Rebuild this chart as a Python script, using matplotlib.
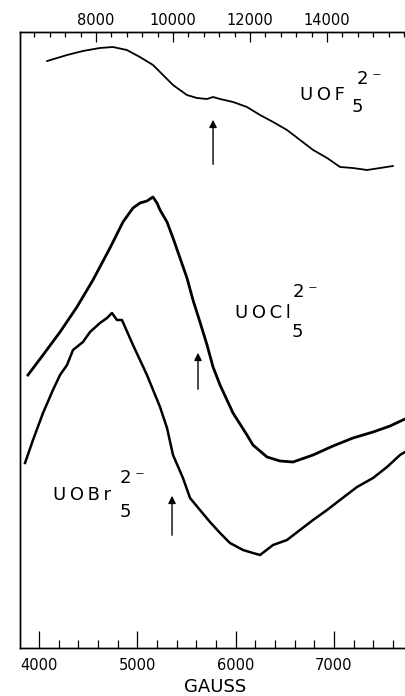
import matplotlib
matplotlib.use("Agg")
import matplotlib.pyplot as plt
from matplotlib.ticker import MultipleLocator

# UOF5(2-) is read on the top field scale (gauss)
uof_field = [6730, 6990, 7250, 7660, 8100, 8440, 8800, 9140, 9480, 9740,
             10000, 10360, 10620, 10880, 11040, 11220, 11560, 11920, 12260,
             12600, 12960, 13300, 13640, 14000, 14340, 14670, 15040, 15380, 15710]
uof_signal = [587, 590, 593, 597, 600, 601, 598, 591, 583, 573,
              563, 553, 550, 549, 551, 549, 546, 541, 533,
              526, 518, 508, 498, 490, 481, 480, 478, 480, 482]

# UOCl5(2-) and UOBr5(2-) are read on the bottom scale (gauss)
uocl_field = [3888, 4041, 4214, 4386, 4549, 4722, 4854, 4956, 5027, 5098,
              5159, 5200, 5231, 5302, 5363, 5434, 5505, 5566, 5637, 5709,
              5770, 5841, 5973, 6115, 6176, 6319, 6451, 6583, 6787, 6990,
              7193, 7397, 7570, 7722]
uocl_signal = [273, 293, 316, 341, 368, 400, 426, 440, 445, 447,
               451, 445, 438, 426, 410, 390, 370, 348, 326, 303,
               281, 263, 235, 213, 203, 191, 187, 186, 193, 202,
               210, 216, 222, 229]

uobr_field = [3858, 3939, 4041, 4142, 4214, 4285, 4346, 4447, 4519, 4620,
              4692, 4742, 4793, 4844, 4956, 5098, 5231, 5302, 5363, 5464,
              5536, 5637, 5739, 5841, 5942, 6075, 6176, 6248, 6380, 6522,
              6654, 6787, 6929, 7061, 7234, 7397, 7539, 7671, 7722]
uobr_signal = [185, 208, 235, 258, 273, 283, 298, 306, 316, 325,
               330, 335, 328, 328, 303, 273, 241, 220, 193, 170,
               150, 138, 126, 115, 105, 98, 95, 93, 103, 108,
               118, 128, 138, 148, 161, 170, 181, 193, 196]

# marked field positions (arrows): field, tail, tip
uof_mark = (11040, 481, 531)
uocl_mark = (5617, 256, 298)
uobr_mark = (5353, 110, 155)

bottom_ticks = [4000, 5000, 6000, 7000]
top_ticks = [8000, 10000, 12000, 14000]

TS = "\u2009"  # thin space, the old lettering is widely spaced


def label(ax, name, x, y, sub_xy, sup_xy, fs=13):
    ax.text(x, y, TS.join(name), fontsize=fs)
    ax.text(sub_xy[0], sub_xy[1], "5", fontsize=fs)
    ax.text(sup_xy[0], sup_xy[1], "2" + TS + "\u207b", fontsize=fs)


fig = plt.figure(figsize=(4.05, 6.96), dpi=100)
ax = fig.add_axes([20 / 405, 48 / 696, 1 - 20 / 405, 616 / 696])
ax.set_xlim(3807, 7722)
ax.set_ylim(0, 616)

ax2 = ax.twiny()
ax2.set_xlim(6026, 16025)

ax.plot(uocl_field, uocl_signal, color="black", lw=2.0)
ax.plot(uobr_field, uobr_signal, color="black", lw=1.8)
ax2.plot(uof_field, uof_signal, color="black", lw=1.3)

arrow = dict(arrowstyle="-|>", color="black", lw=1.0, mutation_scale=11)
ax2.annotate("", xy=(uof_mark[0], uof_mark[2]), xytext=(uof_mark[0], uof_mark[1]),
             arrowprops=arrow)
ax.annotate("", xy=(uocl_mark[0], uocl_mark[2]), xytext=(uocl_mark[0], uocl_mark[1]),
            arrowprops=arrow)
ax.annotate("", xy=(uobr_mark[0], uobr_mark[2]), xytext=(uobr_mark[0], uobr_mark[1]),
            arrowprops=arrow)

label(ax, "UOF", 6654, 548, (7183, 536), (7234, 564))
label(ax, "UOCl", 5993, 330, (6573, 311), (6583, 351))
label(ax, "UOBr", 4142, 148, (4824, 131), (4824, 165))

ax.set_xticks(bottom_ticks)
ax.xaxis.set_minor_locator(MultipleLocator(200))
ax.tick_params(axis="x", which="major", direction="in", length=12, width=0.9,
               labelsize=10.5, pad=7)
ax.tick_params(axis="x", which="minor", direction="in", length=6, width=0.9)
ax.set_yticks([])
fig.text(215 / 405, 0.0, "GAUSS", fontsize=13, ha="center", va="bottom")

ax2.set_xticks(top_ticks)
ax2.xaxis.set_minor_locator(MultipleLocator(400))
ax2.tick_params(axis="x", which="major", direction="in", length=7, width=0.9,
                labelsize=10.5, pad=3)
ax2.tick_params(axis="x", which="minor", direction="in", length=3.5, width=0.9)

for a in (ax, ax2):
    a.spines["right"].set_visible(False)
    for side in ("left", "top", "bottom"):
        a.spines[side].set_linewidth(1.0)

fig.savefig("out.png", dpi=100)
